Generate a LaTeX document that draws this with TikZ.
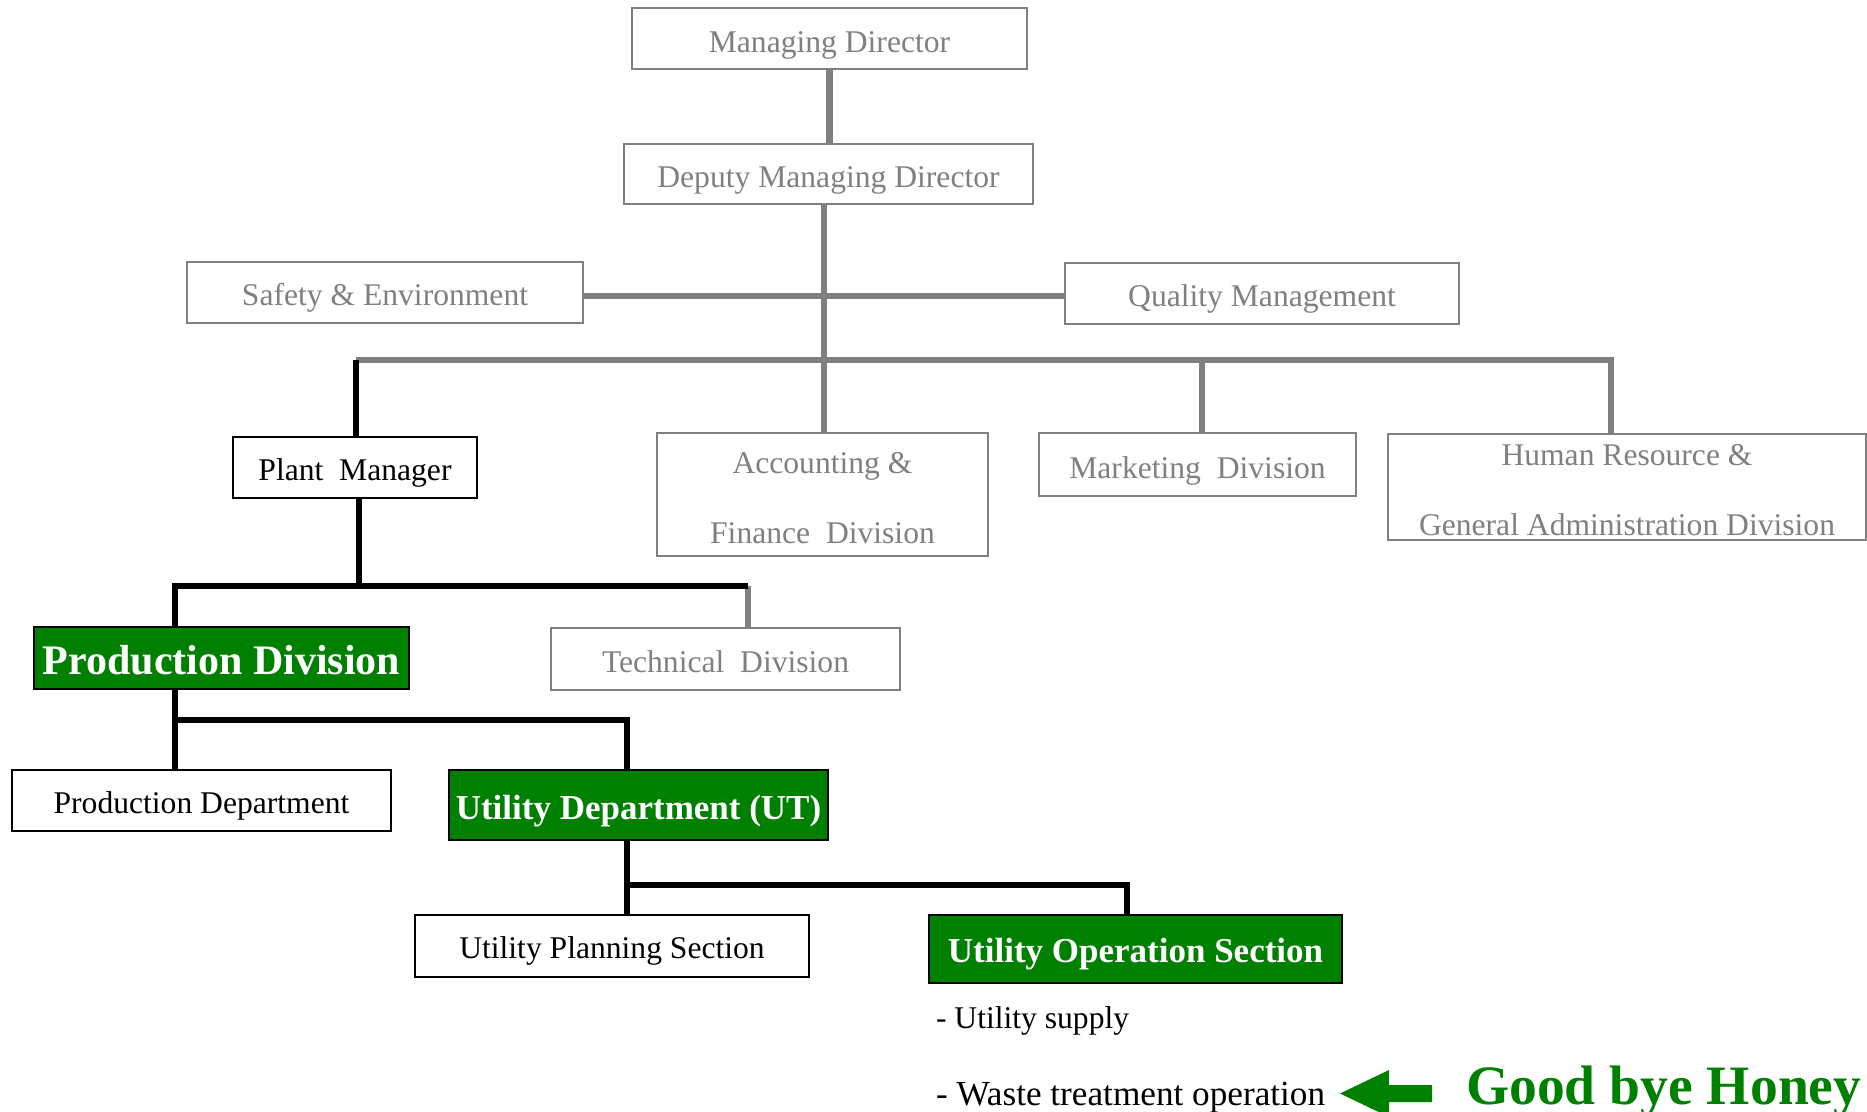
\documentclass[tikz,border=0pt]{standalone}
\usepackage{fontspec}
\setmainfont{Liberation Serif}
\definecolor{ogreen}{RGB}{0,128,0}
\definecolor{mgray}{RGB}{128,128,128}
\begin{document}
\begin{tikzpicture}[x=1pt,y=-1pt,
  boxbase/.style={draw, line width=2.5pt, inner sep=0pt, outer sep=0pt},
  graybox/.style={boxbase, draw=mgray, text=mgray, font=\fontsize{31.6}{38}\selectfont},
  blackbox/.style={boxbase, draw=black, text=black, font=\fontsize{31.6}{38}\selectfont},
  greenbox/.style={boxbase, draw=black, fill=ogreen, text=white},
  gline/.style={draw=mgray, line width=6.5pt, line join=miter},
  bline/.style={draw=black, line width=6pt, line join=miter},
  plain/.style={anchor=base west, inner sep=0pt, outer sep=0pt}]

\useasboundingbox[fill=white] (0,0) rectangle (1867,1111);

% boxes
\node[graybox, minimum width=395pt, minimum height=61pt, text height=44pt, text depth=17pt] (md) at (829.5,38.5) {Managing Director};
\node[graybox, minimum width=409pt, minimum height=60pt, text height=43pt, text depth=17pt] (dmd) at (828.5,174) {Deputy Managing Director};
\node[graybox, minimum width=396pt, minimum height=61pt, text height=43.5pt, text depth=17.5pt] (safety) at (385,292.5) {Safety \& Environment};
\node[graybox, minimum width=394pt, minimum height=61pt, text height=43.5pt, text depth=17.5pt] (quality) at (1262,293.5) {Quality Management};
\node[blackbox, minimum width=244pt, minimum height=61pt, text height=43pt, text depth=18pt] (plant) at (355,467.5) {Plant~~Manager};
\node[graybox, minimum width=331pt, minimum height=123pt, align=center, font=\fontsize{31.6}{70}\selectfont] (acc) at (822.5,494.5) {\rule{0pt}{28pt}Accounting \&\\Finance~~Division};
\node[graybox, minimum width=317pt, minimum height=63pt, text height=45pt, text depth=18pt] (mkt) at (1197.5,464.5) {Marketing~~Division};
\node[graybox, minimum width=478pt, minimum height=106pt, align=center, font=\fontsize{31.6}{70}\selectfont] (hr) at (1627,487) {\rule{0pt}{26.5pt}Human Resource \&\\General Administration Division};
\node[greenbox, minimum width=375pt, minimum height=62pt, text height=47pt, text depth=15pt, font=\bfseries\fontsize{42}{48}\selectfont] (pd) at (221.5,658) {Production Division};
\node[graybox, minimum width=349pt, minimum height=62pt, text height=44pt, text depth=18pt] (tech) at (725.5,659) {Technical~~Division};
\node[blackbox, minimum width=379pt, minimum height=61pt, text height=43.5pt, text depth=17.5pt] (pdept) at (201.5,800.5) {Production Department};
\node[greenbox, minimum width=379pt, minimum height=70pt, text height=49pt, text depth=21pt, font=\bfseries\fontsize{35}{42}\selectfont] (ut) at (638.5,805) {Utility Department (UT)};
\node[blackbox, minimum width=394pt, minimum height=62pt, text height=43pt, text depth=19pt] (ups) at (612,946) {Utility Planning Section};
\node[greenbox, minimum width=413pt, minimum height=68pt, text height=47pt, text depth=21pt, font=\bfseries\fontsize{35}{42}\selectfont] (uos) at (1135.5,949) {Utility Operation Section};

% junction points of the connectors
\coordinate (trunk) at (824,360);
\coordinate (barL) at (356,360);
\coordinate (barR) at (1611,360);
\coordinate (mktj) at (1202,360);
\coordinate (side) at (824,296);
\coordinate (pj) at (359,586);
\coordinate (pdj) at (175,586);
\coordinate (techj) at (748,586);
\coordinate (pdb) at (175,720);
\coordinate (utj) at (627,720);
\coordinate (uj) at (627,885);
\coordinate (uosj) at (1127,885);

% upper management connectors
\draw[gline] (md.south) -- (md.south |- dmd.north);
\draw[gline] (dmd.south -| trunk) -- (acc.north -| trunk);
\draw[gline] (safety.east |- side) -- (quality.west |- side);
\draw[gline] (barL) -- (barR) -- (hr.north -| barR);
\draw[gline] (mktj) -- (mkt.north -| mktj);
\draw[bline] (barL) -- (plant.north -| barL);

% plant connectors
\draw[gline] (techj) -- (tech.north -| techj);
\draw[bline] (plant.south -| pj) -- (pj);
\draw[bline] (pd.north -| pdj) -- (pdj) -- (techj);
\draw[bline] (pd.south -| pdb) -- (pdept.north -| pdb);
\draw[bline] (pdb) -- (utj) -- (ut.north -| utj);
\draw[bline] (ut.south -| uj) -- (ups.north -| uj);
\draw[bline] (uj) -- (uosj) -- (uos.north -| uosj);

% duties of the operation section
\node[plain, font=\fontsize{31.6}{38}\selectfont] (supply) at (936,1028) {- Utility supply};
\node[plain, font=\fontsize{35.2}{40}\selectfont] (waste) at (936,1105) {- Waste treatment operation};

% pointer and farewell note
\fill[ogreen] (1340,1093.5) -- (1389,1070) -- (1389,1085) -- (1432,1085) -- (1432,1102) -- (1389,1102) -- (1389,1117) -- cycle;
\node[plain, text=ogreen, font=\bfseries\fontsize{55.6}{62}\selectfont] (bye) at (1466,1104) {Good bye Honey};
\end{tikzpicture}
\end{document}
